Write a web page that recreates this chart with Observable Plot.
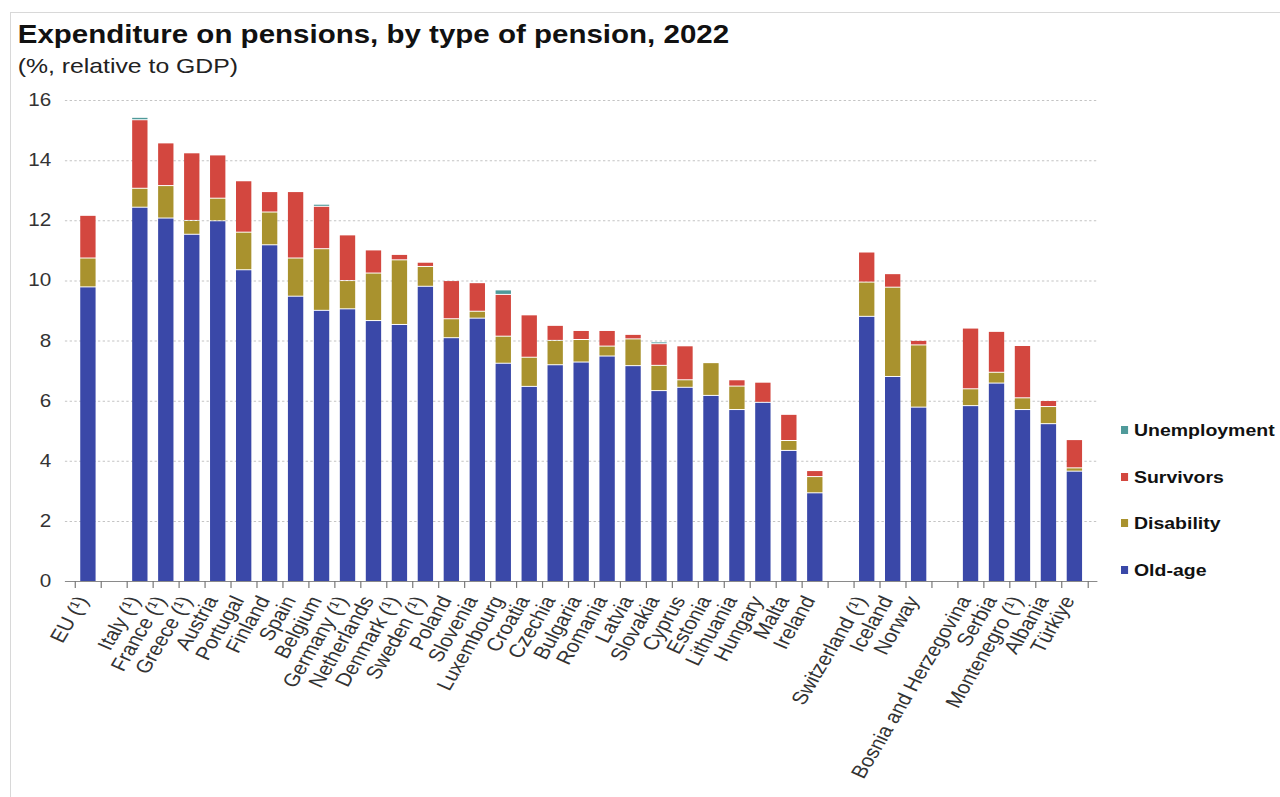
<!DOCTYPE html>
<html>
<head>
<meta charset="utf-8">
<script src="https://cdn.jsdelivr.net/npm/d3@7"></script>
<script src="https://cdn.jsdelivr.net/npm/@observablehq/plot@0.6"></script>
<style>
  html, body { margin: 0; padding: 0; background: #fff; }
  body { width: 1280px; height: 797px; overflow: hidden; position: relative; font-family: "Liberation Sans", Arial, sans-serif; }
  #frame { position: absolute; left: 10px; top: 12px; width: 1300px; height: 820px; border-left: 1px solid #d8d8d8; border-top: 1px solid #d8d8d8; }
  #wrap { position: absolute; left: 0; top: 0; width: 1085px; height: 797px; transform: scaleX(1.18); transform-origin: 0 0; }
  #title { position: absolute; left: 15px; top: 22px; font-weight: bold; font-size: 25px; line-height: 1; color: #111; white-space: nowrap; }
  #subtitle { position: absolute; left: 15px; top: 55px; font-size: 21px; line-height: 1; color: #222; white-space: nowrap; }
  #chart { position: absolute; left: 0; top: 80px; }
  .item { position: absolute; left: 950px; height: 20px; display: flex; align-items: center; font-weight: bold; font-size: 16.5px; color: #111; white-space: nowrap; }
  .sw { display: inline-block; width: 6px; height: 8px; margin-right: 5px; }
</style>
</head>
<body>
<div id="frame"></div>
<div id="wrap">
  <div id="title">Expenditure on pensions, by type of pension, 2022</div>
  <div id="subtitle">(%, relative to GDP)</div>
  <div id="chart"></div>
  <div id="legend"></div>
</div>
<script>
// Slots along the x axis ("_g" entries are empty gaps)
const countries = ["EU (¹)", "_g1", "Italy (¹)", "France (¹)", "Greece (¹)", "Austria", "Portugal", "Finland", "Spain", "Belgium",
  "Germany (¹)", "Netherlands", "Denmark (¹)", "Sweden (¹)", "Poland", "Slovenia", "Luxembourg", "Croatia", "Czechia",
  "Bulgaria", "Romania", "Latvia", "Slovakia", "Cyprus", "Estonia", "Lithuania", "Hungary", "Malta", "Ireland", "_g2",
  "Switzerland (¹)", "Iceland", "Norway", "_g3", "Bosnia and Herzegovina", "Serbia", "Montenegro (¹)", "Albania", "Türkiye"];

const oldAge = [9.80, null, 12.45, 12.09, 11.55, 12.00, 10.37, 11.20, 9.49, 9.02,
  9.07, 8.68, 8.55, 9.82, 8.11, 8.76, 7.26, 6.49, 7.21,
  7.30, 7.50, 7.18, 6.35, 6.46, 6.19, 5.72, 5.96, 4.36, 2.95, null,
  8.82, 6.82, 5.80, null, 5.85, 6.60, 5.72, 5.25, 3.67];

const disability = [0.96, null, 0.63, 1.08, 0.46, 0.75, 1.25, 1.09, 1.27, 2.05,
  0.94, 1.58, 2.15, 0.66, 0.63, 0.23, 0.90, 0.97, 0.81,
  0.75, 0.33, 0.89, 0.84, 0.25, 1.09, 0.78, 0, 0.33, 0.54, null,
  1.14, 2.97, 2.07, null, 0.56, 0.36, 0.39, 0.57, 0.11];

const survivors = [1.42, null, 2.28, 1.42, 2.25, 1.44, 1.71, 0.68, 2.21, 1.41,
  1.52, 0.77, 0.18, 0.14, 1.27, 0.95, 1.39, 1.41, 0.50,
  0.30, 0.52, 0.15, 0.72, 1.13, 0, 0.21, 0.67, 0.87, 0.20, null,
  1.00, 0.45, 0.15, null, 2.02, 1.36, 1.74, 0.20, 0.94];

const unemployment = [0, null, 0.08, 0, 0, 0, 0, 0, 0, 0.07,
  0, 0, 0, 0, 0, 0, 0.15, 0, 0,
  0, 0, 0, 0.06, 0, 0, 0, 0, 0, 0, null,
  0, 0, 0, null, 0, 0, 0, 0, 0];

const types = ["Old-age", "Disability", "Survivors", "Unemployment"];
const colors = ["#3a48a8", "#a9922e", "#d3473f", "#4f9a9a"];
const yTicks = [0, 2, 4, 6, 8, 10, 12, 14, 16];

const series = [oldAge, disability, survivors, unemployment];
const rows = [];
countries.forEach((c, i) => {
  types.forEach((t, k) => {
    const v = series[k][i];
    if (v != null && v > 0) rows.push({country: c, type: t, value: v});
  });
});

const W = 940, ML = 55, MR = 10;
const step = (W - ML - MR) / countries.length;

const chart = Plot.plot({
  width: W,
  height: 716,
  marginLeft: ML,
  marginRight: MR,
  marginTop: 20,
  marginBottom: 215,
  style: {fontFamily: "'Liberation Sans', Arial, sans-serif", fontSize: "17.5px", color: "#333", background: "transparent"},
  x: {type: "band", domain: countries, paddingInner: 0.4, paddingOuter: 0.2, axis: null, label: null},
  y: {domain: [0, 16], axis: null, label: null},
  color: {domain: types, range: colors},
  marks: [
    Plot.gridY(yTicks.slice(1), {stroke: "#c4c4c4", strokeOpacity: 1, strokeDasharray: "2,2", strokeWidth: 1}),
    Plot.barY(rows, {x: "country", y: "value", fill: "type", order: types, insetTop: 1}),
    Plot.ruleY([0], {stroke: "#8a8a8a", strokeWidth: 1.2}),
    Plot.ruleX(countries, {x: d => d, y1: 0, y2: -0.23, dx: -step / 2, stroke: "#777", strokeWidth: 1}),
    Plot.ruleX([countries[countries.length - 1]], {x: d => d, y1: 0, y2: -0.23, dx: step / 2, stroke: "#777", strokeWidth: 1}),
    Plot.axisY(yTicks, {tickSize: 0, tickPadding: 12, fill: "#333", label: null}),
    Plot.axisX({tickRotate: -63, tickSize: 0, tickPadding: 16, dx: -5, fill: "#333", fontSize: 18.5, label: null,
      tickFormat: d => d.startsWith("_g") ? "" : d})
  ]
});
document.getElementById("chart").appendChild(chart);

// legend
const legendTop = [430, 477, 523, 570];
const legendOrder = ["Unemployment", "Survivors", "Disability", "Old-age"];
const legend = document.getElementById("legend");
legendOrder.forEach((t, i) => {
  const d = document.createElement("div");
  d.className = "item";
  d.style.top = (legendTop[i] - 10) + "px";
  const sw = document.createElement("span");
  sw.className = "sw";
  sw.style.background = colors[types.indexOf(t)];
  d.appendChild(sw);
  d.appendChild(document.createTextNode(t));
  legend.appendChild(d);
});
</script>
</body>
</html>
